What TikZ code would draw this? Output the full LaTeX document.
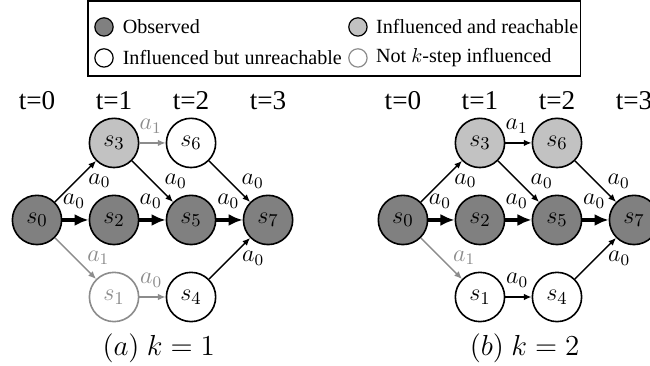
\documentclass[tikz,border=0pt]{standalone}
\usepackage[no-math]{fontspec}
\setmainfont{Liberation Serif}
\usetikzlibrary{arrows.meta,positioning}

\definecolor{obsgray}{gray}{0.5}
\definecolor{reachgray}{gray}{0.76}
\definecolor{fadegray}{gray}{0.55}

\tikzset{
  stnode/.style={circle, draw, line width=0.8pt, minimum size=0.86cm, inner sep=0pt,
    font=\fontsize{13}{15}\selectfont},
  observed/.style={stnode, fill=obsgray},
  reach/.style={stnode, fill=reachgray},
  unreach/.style={stnode, fill=white},
  faded/.style={stnode, draw=fadegray, text=fadegray, fill=white},
  act/.style={-{Latex[length=3.8pt,width=3.2pt]}, line width=0.7pt},
  mainact/.style={-{Latex[length=7pt,width=6pt]}, line width=1.6pt},
  fadeact/.style={act, color=fadegray},
  lbl/.style={font=\fontsize{12}{14}\selectfont, inner sep=1pt},
  tlabel/.style={font=\fontsize{13.5}{15}\selectfont},
  caplabel/.style={font=\fontsize{14.5}{17}\selectfont},
  legdot/.style={circle, draw, line width=0.6pt, minimum size=0.32cm, inner sep=0pt},
  legtext/.style={font=\rmfamily\fontsize{10}{12}\selectfont, inner sep=0.1cm}
}

\begin{document}
\begin{tikzpicture}
\useasboundingbox (0,0) rectangle (11.35,6.39);

% legend
\draw[line width=0.6pt] (1.536,5.063) rectangle (10.13,6.373);
\node[legdot, fill=obsgray] (kobs) at (1.816,5.919) {};
\node[legtext, right=0.05cm of kobs] (tobs) {Observed};
\node[legdot, fill=white] (kunr) at (1.816,5.378) {};
\node[legtext, right=0.05cm of kunr] (tunr) {Influenced but unreachable};
\node[legdot, fill=reachgray] (krch) at (6.25,5.919) {};
\node[legtext, right=0.04cm of krch] (trch) {Influenced and reachable};
\node[legdot, draw=fadegray, fill=white] (knot) at (6.25,5.378) {};
\node[legtext, right=0.04cm of knot] (tnot) {Not $k$-step influenced};

% the two unrolled graphs
\foreach \pan/\dx/\sone/\ssix/\lastact/\kk in {a/0/faded/unreach/fadeact/1, b/6.39/unreach/reach/act/2} {
\begin{scope}[shift={({0.646+\dx},2.549)}, x=1.345cm, y=1.345cm]
  \foreach \t in {0,...,3}
    \node[tlabel] (\pan-t\t) at (\t,1.545) {t=\t};

  \node[observed] (\pan0) at (0,0) {$s_0$};
  \node[observed] (\pan2) at (1,0) {$s_2$};
  \node[observed] (\pan5) at (2,0) {$s_5$};
  \node[observed] (\pan7) at (3,0) {$s_7$};
  \node[reach] (\pan3) at (1,1) {$s_3$};
  \node[\ssix] (\pan6) at (2,1) {$s_6$};
  \node[\sone] (\pan1) at (1,-1) {$s_1$};
  \node[unreach] (\pan4) at (2,-1) {$s_4$};

  \draw[act] (\pan0) -- node[lbl, pos=0.75, below right] {$a_0$} (\pan3);
  \draw[mainact] (\pan0) -- node[lbl, pos=0.44, above=4pt] {$a_0$} (\pan2);
  \draw[fadeact] (\pan0) -- node[lbl, pos=0.72, above right] {$a_1$} (\pan1);
  \draw[\lastact] (\pan3) -- node[lbl, pos=0.43, above=3.5pt] {$a_1$} (\pan6);
  \draw[act] (\pan3) -- node[lbl, pos=0.73, above right] {$a_0$} (\pan5);
  \draw[mainact] (\pan2) -- node[lbl, pos=0.43, above=4pt] {$a_0$} (\pan5);
  \draw[\lastact] (\pan1) -- node[lbl, pos=0.45, above=3.5pt] {$a_0$} (\pan4);
  \draw[act] (\pan6) -- node[lbl, pos=0.73, above right] {$a_0$} (\pan7);
  \draw[mainact] (\pan5) -- node[lbl, pos=0.45, above=4pt] {$a_0$} (\pan7);
  \draw[act] (\pan4) -- node[lbl, pos=0.74, below right] {$a_0$} (\pan7);

  \node[caplabel] (\pan-cap) at (1.58,-1.66) {$(\pan)$ $k=\kk$};
\end{scope}
}
\end{tikzpicture}
\end{document}
